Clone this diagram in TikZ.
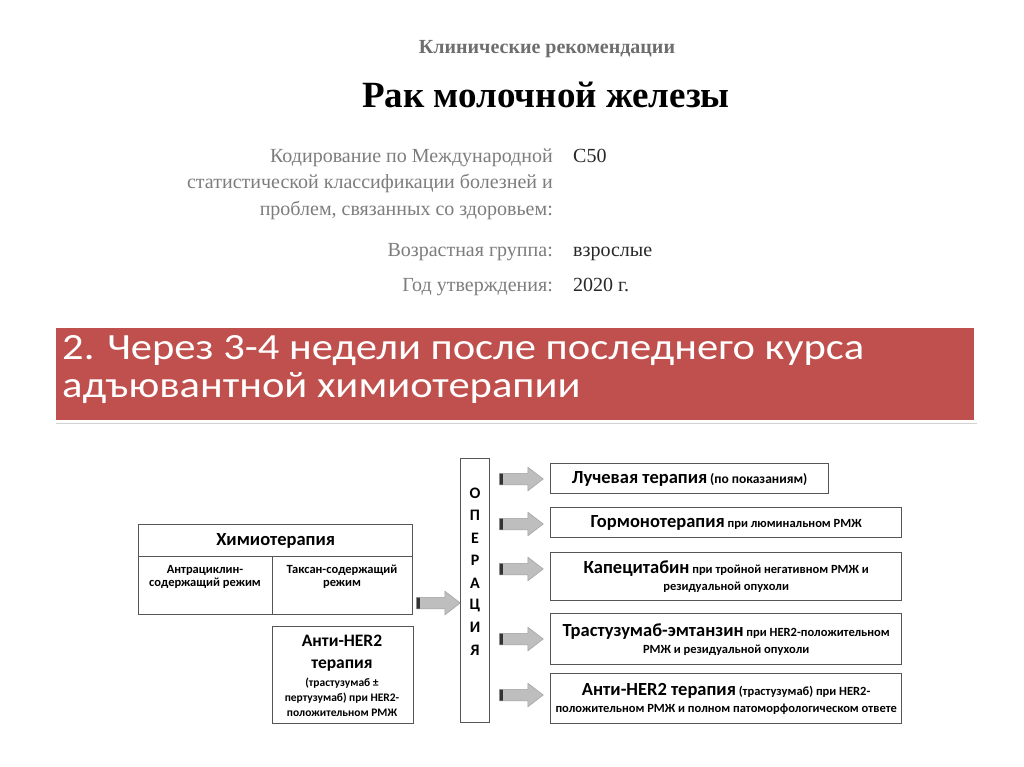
\documentclass[tikz,border=0pt]{standalone}
\usepackage{fontspec}
\setmainfont{Liberation Serif}
\newfontfamily\slideFont[FakeStretch=1.15]{Carlito}
\newfontfamily\diagFont{Carlito}
\usetikzlibrary{shapes.arrows, shadows}

\definecolor{bannerColor}{HTML}{C0504D}
\definecolor{kindGray}{RGB}{110,110,110}
\definecolor{labelGray}{RGB}{125,125,125}
\definecolor{valueColor}{RGB}{40,40,40}
\definecolor{frameColor}{RGB}{85,85,85}
\definecolor{arrowFill}{RGB}{190,190,190}

\newcommand{\mainTxt}{\fontsize{18.5}{18}\selectfont}
\newcommand{\noteTxt}{\fontsize{12.5}{17}\selectfont}
\lineskiplimit=-30pt

\begin{document}
\begin{tikzpicture}[
    x=1pt, y=-1pt,
    head label/.style={anchor=base east, inner sep=0pt, text=labelGray,
        font=\fontsize{20}{22}\selectfont},
    head value/.style={anchor=base west, inner sep=0pt, text=valueColor,
        font=\fontsize{20}{22}\selectfont},
    banner line/.style={anchor=base west, inner sep=0pt, text=white,
        font=\slideFont\fontsize{37}{40}\selectfont},
    diag box/.style={draw=frameColor, line width=1.3pt, inner sep=0pt,
        anchor=north west, align=center, font=\diagFont\bfseries\noteTxt},
    diag text/.style={inner sep=0pt, align=center,
        font=\diagFont\bfseries\noteTxt},
    op letter/.style={inner sep=0pt, font=\diagFont\bfseries\fontsize{16}{18}\selectfont},
    big arrow/.style={single arrow, draw=gray!75, line width=0.5pt,
        fill=arrowFill, minimum height=44pt, text height=5.5pt, text depth=5.5pt,
        single arrow head extend=6pt, single arrow tip angle=75,
        inner sep=0pt, anchor=tail,
        path picture={\fill[black!80] (path picture bounding box.south west)
            rectangle ([xshift=4pt]path picture bounding box.north west);}},
]

% ---- page ----
\fill[white] (0,0) rectangle (1024,767);
\useasboundingbox (0,0) rectangle (1024,767);

% ---- document header ----
\node[anchor=base, text=kindGray, font=\bfseries\fontsize{20}{22}\selectfont]
    (docKind) at (547,54) {Клинические рекомендации};
\node[anchor=base, font=\bfseries\fontsize{37}{40}\selectfont]
    (docTitle) at (546,108) {Рак молочной железы};

\node[head label] (codeA) at (553,163) {Кодирование по Международной};
\node[head label] (codeB) at (553,189) {статистической классификации болезней и};
\node[head label] (codeC) at (553,215) {проблем, связанных со здоровьем:};
\node[head value] (codeVal) at (573,163) {C50};
\node[head label] (ageLbl) at (553,256) {Возрастная группа:};
\node[head value] (ageVal) at (573,256) {взрослые};
\node[head label] (yearLbl) at (553,291) {Год утверждения:};
\node[head value] (yearVal) at (573,291) {2020 г.};

% ---- red banner ----
\node[draw=white, line width=2.5pt, fill=bannerColor, anchor=north west,
    minimum width=921pt, minimum height=95pt, inner sep=0pt,
    drop shadow={shadow xshift=1.5pt, shadow yshift=-2.5pt, opacity=0.35}]
    (banner) at (53,325) {};
\node[banner line] (bannerA) at (62,359) {2. Через 3-4 недели после последнего курса};
\node[banner line] (bannerB) at (62,397) {адъювантной химиотерапии};

% ======== before the operation ========
\node[diag box, minimum width=274pt, minimum height=32pt]
    (chemoHead) at (138,524) {\mainTxt Химиотерапия};
\node[diag box, minimum width=134pt, minimum height=58pt] (chemoAnthra) at (138,556) {};
\node[diag box, minimum width=140pt, minimum height=58pt] (chemoTaxane) at (272,556) {};
% base anchor of a two-line text sits on its last line
\node[diag text, anchor=base, font=\diagFont\bfseries\fontsize{12.5}{13}\selectfont]
    (anthraTxt) at (205,586) {Антрациклин-\\содержащий режим};
\node[diag text, anchor=base, font=\diagFont\bfseries\fontsize{12.5}{13}\selectfont]
    (taxaneTxt) at (342,586) {Таксан-содержащий\\режим};

\node[diag box, minimum width=141pt, minimum height=97pt] (her2Box) at (272,626) {};
\node[diag text, anchor=base, font=\diagFont\bfseries\fontsize{17.5}{22}\selectfont]
    (her2Title) at (342,668) {Анти-HER2\\терапия};
\node[diag text, anchor=base, font=\diagFont\bfseries\fontsize{11.5}{15}\selectfont]
    (her2Note) at (342,716) {(трастузумаб ±\\пертузумаб) при HER2-\\положительном РМЖ};

\node[big arrow] (arrChemo) at (416,603) {};

% ======== operation column ========
\node[diag box, minimum width=29pt, minimum height=264pt] (opCol) at (460,458) {};
\foreach \ch [count=\i] in {О,П,Е,Р,А,Ц,И,Я}
    \node[op letter] (opL\i) at (475, 471+22.4*\i) {\ch};

% ======== after the operation ========
\foreach \y [count=\i] in {479,524,569,639,695}
    \node[big arrow] (arrOut\i) at (499,\y) {};

\node[diag box, minimum width=278pt, minimum height=30pt]
    (radBox) at (550,463) {{\mainTxt Лучевая терапия} {\fontsize{13.5}{17}\selectfont(по показаниям)}};
\node[diag box, minimum width=351pt, minimum height=30pt]
    (hormBox) at (550,507) {{\mainTxt Гормонотерапия}\ при люминальном РМЖ};
\node[diag box, minimum width=351pt, minimum height=48pt]
    (capeBox) at (550,552) {{\mainTxt Капецитабин}\ при тройной негативном РМЖ и\\резидуальной опухоли};
\node[diag box, minimum width=351pt, minimum height=51pt]
    (tdmBox) at (550,613) {{\mainTxt Трастузумаб-эмтанзин}\ при HER2-положительном\\РМЖ и резидуальной опухоли};
\node[diag box, minimum width=351pt, minimum height=50pt]
    (antiBox) at (550,673) {{\mainTxt Анти-HER2 терапия} (трастузумаб) при HER2-\\положительном РМЖ и полном патоморфологическом ответе};

\end{tikzpicture}
\end{document}
